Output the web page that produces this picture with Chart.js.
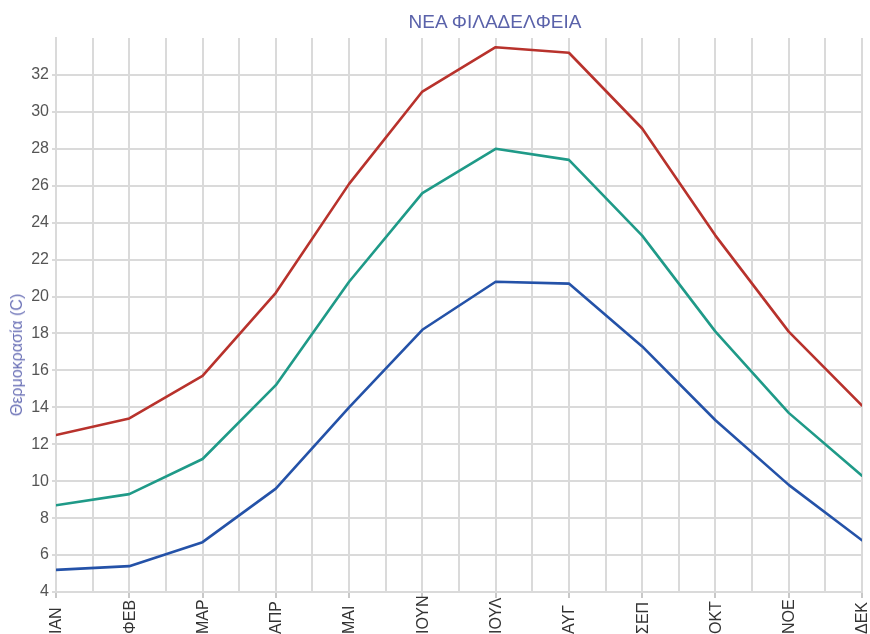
<!DOCTYPE html>
<html>
<head>
<meta charset="utf-8">
<script src="https://cdn.jsdelivr.net/npm/chart.js@4.4.1/dist/chart.umd.min.js"></script>
<style>
  html, body { margin: 0; padding: 0; background: #ffffff; overflow: hidden; }
  #wrap { position: relative; width: 870px; height: 634px; }
  #chart { position: absolute; left: 0; top: 0; }
  #title {
    position: absolute; left: 345px; top: 11px; width: 300px; text-align: center;
    font-family: "Liberation Sans", Arial, sans-serif; font-size: 19px; line-height: 22px;
    color: #5a62aa; white-space: nowrap;
  }
  #ytitle {
    position: absolute; left: 17px; top: 355px;
    transform: translate(-50%, -50%) rotate(-90deg);
    font-family: "Liberation Sans", Arial, sans-serif; font-size: 16px; line-height: 18px;
    color: #6a70b6; white-space: nowrap;
  }
</style>
</head>
<body>
<div id="wrap">
  <canvas id="chart" width="870" height="634"></canvas>
  <div id="title">ΝΕΑ ΦΙΛΑΔΕΛΦΕΙΑ</div>
  <div id="ytitle">Θερμοκρασία (C)</div>
</div>
<script>
// ---- data ----
const months = ['ΙΑΝ', 'ΦΕΒ', 'ΜΑΡ', 'ΑΠΡ', 'ΜΑΙ', 'ΙΟΥΝ', 'ΙΟΥΛ', 'ΑΥΓ', 'ΣΕΠ', 'ΟΚΤ', 'ΝΟΕ', 'ΔΕΚ'];
const maxTemp  = [12.5, 13.4, 15.7, 20.2, 26.1, 31.1, 33.5, 33.2, 29.1, 23.3, 18.1, 14.1];
const meanTemp = [8.7, 9.3, 11.2, 15.2, 20.8, 25.6, 28.0, 27.4, 23.3, 18.1, 13.7, 10.3];
const minTemp  = [5.2, 5.4, 6.7, 9.6, 14.0, 18.2, 20.8, 20.7, 17.3, 13.3, 9.8, 6.8];
const yMin = 4, yMax = 34, yStep = 2;

const FONT = '"Liberation Sans", Arial, sans-serif';
const GRID = '#dadada';

const toPoints = arr => arr.map((v, i) => ({ x: i, y: v }));

const bottomLabels = {
  id: 'bottomLabels',
  afterDraw(chart) {
    const xs = chart.scales.x, ctx = chart.ctx;
    ctx.save();
    ctx.font = '16px ' + FONT;
    ctx.fillStyle = '#333333';
    ctx.textAlign = 'left';
    ctx.textBaseline = 'middle';
    months.forEach((m, i) => {
      const px = xs.getPixelForValue(i);
      ctx.save();
      ctx.translate(px + 1, chart.height);
      ctx.rotate(-Math.PI / 2);
      ctx.fillText(m, 0, 0);
      ctx.restore();
    });
    ctx.restore();
  }
};

new Chart(document.getElementById('chart'), {
  type: 'line',
  data: {
    datasets: [
      { label: 'max', data: toPoints(maxTemp), borderColor: '#b8322c', borderWidth: 2.6 },
      { label: 'mean', data: toPoints(meanTemp), borderColor: '#1f9a88', borderWidth: 2.6 },
      { label: 'min', data: toPoints(minTemp), borderColor: '#2452a8', borderWidth: 2.6 }
    ]
  },
  options: {
    responsive: false,
    animation: false,
    events: [],
    elements: { point: { radius: 0 }, line: { tension: 0, borderCapStyle: 'round', borderJoinStyle: 'round' } },
    layout: { padding: { top: 38, right: 8, left: 0, bottom: 0 } },
    plugins: { legend: { display: false }, title: { display: false }, tooltip: { enabled: false } },
    scales: {
      x: {
        type: 'linear',
        min: 0, max: months.length - 1,
        afterFit(scale) { scale.height = 42; },
        afterBuildTicks(scale) {
          const t = [];
          for (let v = 0; v <= months.length - 1 + 1e-9; v += 0.5) t.push({ value: v });
          scale.ticks = t;
        },
        ticks: { callback: () => '', autoSkip: false, maxRotation: 0, padding: 0 },
        grid: {
          color: GRID, lineWidth: 2, tickLength: 6,
          tickColor: c => (c.tick && Number.isInteger(c.tick.value)) ? '#c8c8c8' : 'rgba(0,0,0,0)'
        },
        border: { color: GRID, width: 2 }
      },
      y: {
        type: 'linear',
        min: yMin, max: yMax,
        afterFit(scale) { scale.width = 56; },
        afterBuildTicks(scale) {
          scale.ticks = scale.ticks.filter(t => t.value < yMax);
        },
        ticks: { stepSize: yStep, color: '#555555', font: { family: FONT, size: 16 }, padding: 3 },
        grid: { color: GRID, lineWidth: 2, tickLength: 4, tickColor: GRID },
        border: { color: GRID, width: 2 }
      }
    }
  },
  plugins: [bottomLabels]
});
</script>
</body>
</html>
